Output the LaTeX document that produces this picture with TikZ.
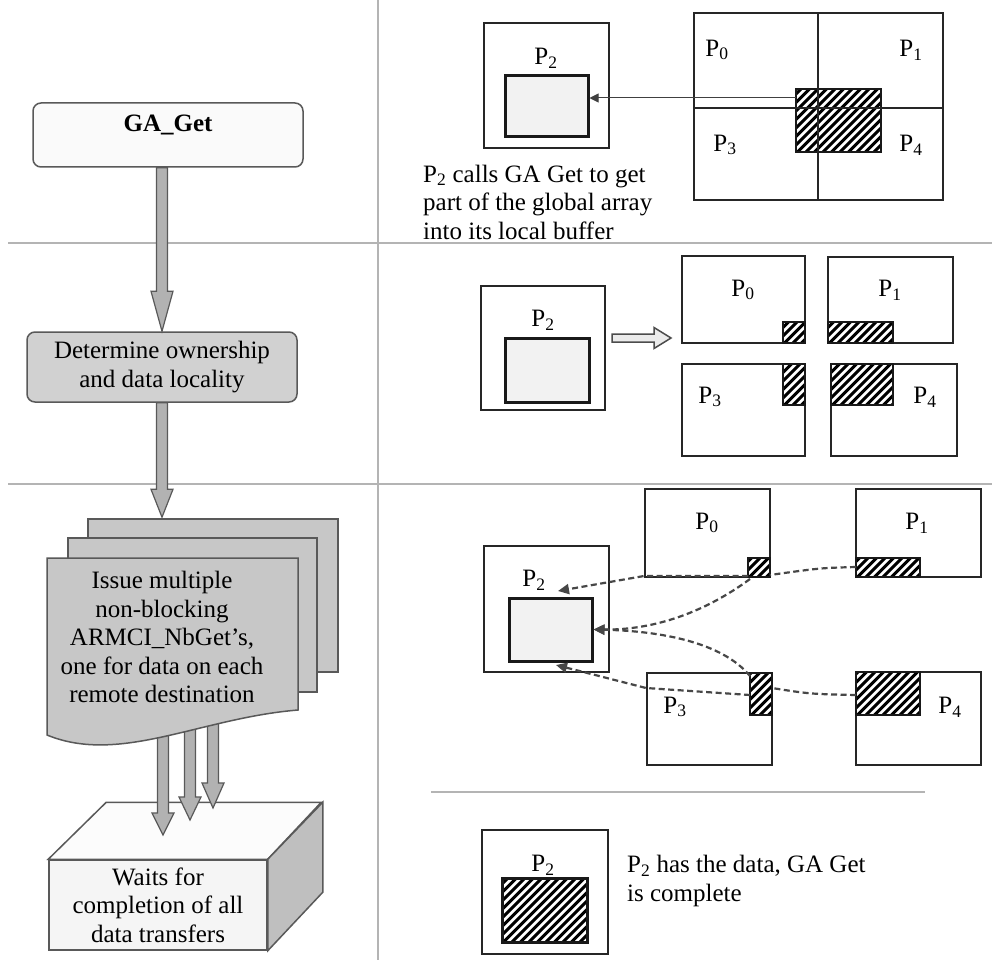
\documentclass[tikz,border=0pt]{standalone}
\usepackage{fontspec}
\setmainfont{Liberation Serif}
\usetikzlibrary{arrows.meta,calc}
\definecolor{gridgray}{HTML}{B4B4B4}
\tikzset{
  gridline/.style={draw=gridgray, line width=2.5pt},
  pbox/.style={draw=black!85, line width=1.8pt, inner sep=0pt},
  bufbox/.style={draw=black!90, line width=3pt, fill=black!5, inner sep=0pt},
  lbl/.style={inner sep=0pt, font=\fontsize{25}{28.5}\selectfont},
  flowbox/.style={draw=black!65, line width=1.5pt, rounded corners=8pt, inner sep=0pt},
  docshape/.style={draw=black!65, line width=1.5pt, fill=black!22},
  blockarr/.style={draw=black!65, line width=1.2pt, fill=black!30},
  hollowarr/.style={draw=black!70, line width=1.5pt, fill=black!8},
  dashconn/.style={draw=black!72, line width=2.2pt, dash pattern=on 6pt off 3.5pt},
  dashtip/.style={dashconn, -{Triangle[length=11pt,width=10pt]}},
  thinconn/.style={draw=black!75, line width=1pt, -{Triangle[length=9pt,width=9pt]}},
}
% box by corners: style, x1, y1, x2, y2, name
\newcommand\cbox[6]{\node[#1, minimum width={#4-#2}, minimum height={#5-#3}] (#6) at ({(#2+#4)/2},{(#3+#5)/2}) {};}
% hatched rectangle
\newcommand\hatchrect[4]{%
  \begin{scope}
    \clip (#1,#2) rectangle (#3,#4);
    \foreach \k in {0,8.5,...,320} {\draw[line width=2.9pt] ({#1-160+\k},#4) -- ++(160,-160);}
  \end{scope}
  \draw[line width=1.8pt, black!90] (#1,#2) rectangle (#3,#4);}
% vertical block arrow: start, tip, head length
\newcommand\vblockarrow[3]{%
  \path[blockarr] let \p1=#1, \p2=#2 in
    ({\x1-5.5pt},\y1) -- ({\x1-5.5pt},{\y2+#3pt}) -- ({\x1-11pt},{\y2+#3pt}) -- (\x1,\y2)
    -- ({\x1+11pt},{\y2+#3pt}) -- ({\x1+5.5pt},{\y2+#3pt}) -- ({\x1+5.5pt},\y1) -- cycle;}
\begin{document}
\begin{tikzpicture}[x=1pt,y=-1pt]
\useasboundingbox (0,0) rectangle (992,960);
\fill[white] (0,0) rectangle (992,960);

% grid lines
\draw[gridline] (378,0) -- (378,960);
\draw[gridline] (8,243) -- (992,243);
\draw[gridline] (8,484) -- (992,484);
\draw[gridline] (431,792) -- (925,792);

% ---------------- left column ----------------
% 3D box
\node[draw=black!65, line width=1.5pt, fill=black!4, minimum width=218, minimum height=90, inner sep=0pt] (wait) at (158,905) {};
\filldraw[draw=black!65, line width=1.5pt, fill=black!1] (wait.north west) -- ++(58,-57) -- ++(215,0) -- (wait.north east) -- cycle;
\filldraw[draw=black!65, line width=1.5pt, fill=black!25] (wait.north east) -- ++(55,-57) -- ++(0,90) -- (wait.south east) -- cycle;
\node[lbl, align=center] (waitt) at (158,905) {Waits for\\completion of all\\data transfers};

% three small arrows from documents to the box
\coordinate (sa1) at (163,700); \coordinate (ta1) at (163,835);
\coordinate (sa2) at (190,700); \coordinate (ta2) at (190,820);
\coordinate (sa3) at (213,700); \coordinate (ta3) at (213,808);
\vblockarrow{(sa1)}{(ta1)}{22}
\vblockarrow{(sa2)}{(ta2)}{23}
\vblockarrow{(sa3)}{(ta3)}{25}

% multiple documents
\cbox{docshape}{88}{519}{338}{672}{doc3}
\cbox{docshape}{68}{538}{317}{692}{doc2}
\filldraw[docshape] (47,558) -- (298,558) -- (298,710) .. controls (200,718) and (120,765) .. (47,735) -- cycle;
\node[lbl, align=center] (issue) at (162,637) {Issue multiple\\non-blocking\\ARMCI\_NbGet’s,\\one for data on each\\remote destination};

% GA_Get and Determine
\node[flowbox, fill=black!2, minimum width=270, minimum height=64] (ga) at (168,135) {};
\node[lbl] (gat) at (168,125) {\textbf{GA\_Get}};
\node[flowbox, fill=black!18, minimum width=270, minimum height=70, align=center, lbl] (det) at (162,367) {Determine ownership\\and data locality};

% block arrows between flow steps
\coordinate (a2tip) at (det.south |- doc3.north);
\vblockarrow{(ga.south -| det.north)}{(det.north)}{40}
\vblockarrow{(det.south)}{($(a2tip)+(0,-1)$)}{28}

% ---------------- row 1 ----------------
\cbox{pbox}{484}{23}{609}{148}{r1p2}
\cbox{bufbox}{505}{76}{588}{137}{r1in}
\node[lbl] (r1l2) at (546,58) {P\textsubscript{2}};
\node[lbl, align=left, anchor=west] (r1txt) at (423,202) {P\textsubscript{2} calls GA Get to get\\part of the global array\\into its local buffer};
\cbox{pbox}{694}{13}{943}{200}{garr}
\hatchrect{796}{89}{881}{152}
\draw[line width=1.8pt, black!85] (818,13) -- (818,200);
\draw[line width=1.8pt, black!85] (694,108) -- (943,108);
\node[lbl] (r1l0) at (717,50) {P\textsubscript{0}};
\node[lbl] (r1l1) at (911,50) {P\textsubscript{1}};
\node[lbl] (r1l3) at (725,145) {P\textsubscript{3}};
\node[lbl] (r1l4) at (911,145) {P\textsubscript{4}};
\coordinate (hsrc) at (796,98);
\draw[thinconn] (hsrc) -- (hsrc -| r1in.east);

% ---------------- row 2 ----------------
\cbox{pbox}{481}{286}{605}{410}{r2p2}
\cbox{bufbox}{505}{338}{589}{402}{r2in}
\node[lbl] (r2l2) at (543,320) {P\textsubscript{2}};
\coordinate (hs) at (612,338); \coordinate (ht) at (671,338);
\path[hollowarr] let \p1=(hs), \p2=(ht) in
  (\x1,{\y1-4pt}) -- ({\x2-17pt},{\y1-4pt}) -- ({\x2-17pt},{\y1-10.5pt}) -- (\x2,\y1)
  -- ({\x2-17pt},{\y1+10.5pt}) -- ({\x2-17pt},{\y1+4pt}) -- (\x1,{\y1+4pt}) -- cycle;
\cbox{pbox}{682}{256}{805}{343}{r2p0}
\cbox{pbox}{828}{257}{953}{343}{r2p1}
\cbox{pbox}{682}{364}{805}{456}{r2p3}
\cbox{pbox}{831}{364}{957}{456}{r2p4}
\hatchrect{783}{322}{805}{343}
\hatchrect{828}{322}{893}{343}
\hatchrect{783}{364}{805}{405}
\hatchrect{831}{364}{893}{405}
\node[lbl] (r2l0) at (743,290) {P\textsubscript{0}};
\node[lbl] (r2l1) at (890,290) {P\textsubscript{1}};
\node[lbl] (r2l3) at (710,397) {P\textsubscript{3}};
\node[lbl] (r2l4) at (925,397) {P\textsubscript{4}};

% ---------------- row 3 ----------------
\cbox{pbox}{484}{546}{609}{672}{r3p2}
\cbox{bufbox}{509}{598}{592}{661}{r3in}
\node[lbl] (r3l2) at (534,580) {P\textsubscript{2}};
\cbox{pbox}{645}{489}{770}{577}{r3p0}
\cbox{pbox}{856}{489}{981}{577}{r3p1}
\cbox{pbox}{647}{673}{772}{765}{r3p3}
\cbox{pbox}{856}{672}{981}{765}{r3p4}
\hatchrect{748}{558}{770}{577}
\hatchrect{856}{558}{920}{577}
\hatchrect{750}{673}{772}{715}
\hatchrect{856}{672}{920}{715}
\node[lbl] (r3l0) at (707,523) {P\textsubscript{0}};
\node[lbl] (r3l1) at (917,523) {P\textsubscript{1}};
\node[lbl] (r3l3) at (675,707) {P\textsubscript{3}};
\node[lbl] (r3l4) at (950,707) {P\textsubscript{4}};
% dashed transfers
\coordinate (h0a) at (748,576); \coordinate (h0b) at (770,575); \coordinate (h0c) at (750,579);
\coordinate (h1) at (856,567);
\coordinate (h3a) at (750,676); \coordinate (h3b) at (772,688); \coordinate (h3c) at (750,695);
\coordinate (h4) at (856,695);
\coordinate (t2top) at (558,591);
\coordinate (t2bot) at (556,665);
\draw[dashconn] (h1) .. controls (820,568) .. (h0b);
\draw[dashtip] (h0a) -- (644,576) -- (t2top);
\draw[dashtip] (h0c) .. controls (705,612) and (655,630) .. (r3in.east);
\draw[dashtip] (h3a) .. controls (722,642) and (660,631) .. (r3in.east);
\draw[dashconn] (h4) .. controls (810,694) .. (h3b);
\draw[dashtip] (h3c) -- (646,688) -- (t2bot);

% ---------------- bottom ----------------
\cbox{pbox}{482}{830}{608}{954}{r4p2}
\hatchrect{502}{878}{587}{942}
\draw[line width=3pt, black!90] (502,878) rectangle (587,942);
\node[lbl] (r4l2) at (543,865) {P\textsubscript{2}};
\node[lbl, align=left, anchor=west] (r4txt) at (627,881) {P\textsubscript{2} has the data, GA Get\\is complete};
\end{tikzpicture}
\end{document}
